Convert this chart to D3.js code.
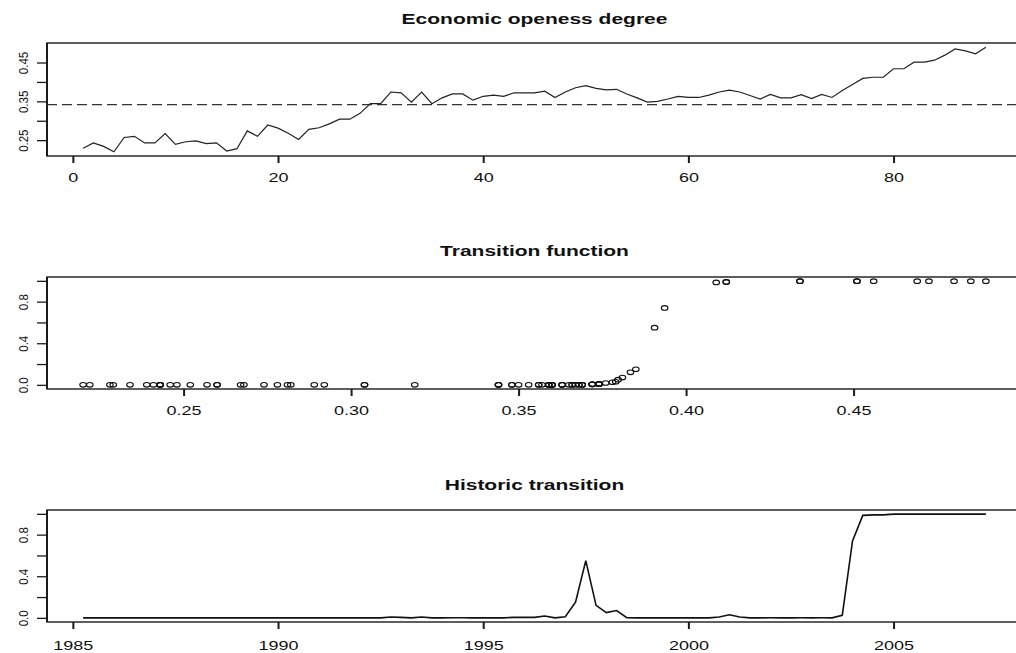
<!DOCTYPE html>
<html>
<head>
<meta charset="utf-8">
<script src="https://cdn.jsdelivr.net/npm/d3@7/dist/d3.min.js"></script>
<style>
  html, body { margin: 0; padding: 0; background: #fff; }
  svg { display: block; }
  text { font-family: "Liberation Sans", Arial, Helvetica, sans-serif; fill: #111; }
</style>
</head>
<body>
<svg id="chart" width="1016" height="653"></svg>
<script>
// ---------------- DATA ----------------
const titles = ["Economic openess degree", "Transition function", "Historic transition"];

// quarterly observation index 1..89
const obsIndex = d3.range(1, 90);

// economic openness degree per quarter
const openness = [
  0.229, 0.243, 0.234, 0.220, 0.257, 0.260, 0.243, 0.243, 0.267, 0.239,
  0.246, 0.248, 0.241, 0.243, 0.222, 0.228, 0.274, 0.260, 0.289, 0.281,
  0.268, 0.252, 0.278, 0.282, 0.292, 0.304, 0.304, 0.319, 0.344, 0.344,
  0.374, 0.372, 0.348, 0.374, 0.344, 0.359, 0.369, 0.369, 0.353, 0.363,
  0.366, 0.363, 0.372, 0.372, 0.372, 0.376, 0.360, 0.374, 0.385, 0.3906,
  0.3834, 0.3797, 0.381, 0.369, 0.359, 0.348, 0.350, 0.356, 0.363, 0.360,
  0.360, 0.366, 0.374, 0.379, 0.374, 0.365, 0.356, 0.368, 0.359, 0.359,
  0.367, 0.357, 0.368, 0.360, 0.378, 0.3936, 0.409, 0.412, 0.412, 0.434,
  0.434, 0.451, 0.451, 0.456, 0.469, 0.485, 0.480, 0.4725, 0.4895
];

// transition function value per quarter
const transition = [
  0, 0, 0, 0, 0, 0, 0, 0, 0, 0,
  0, 0, 0, 0, 0, 0, 0, 0, 0, 0,
  0, 0, 0, 0, 0, 0, 0, 0, 0, 0,
  0.008, 0.005, 0, 0.008, 0, 0, 0.001, 0.001, 0, 0,
  0, 0, 0.005, 0.005, 0.005, 0.018, 0, 0.01, 0.15, 0.55,
  0.12, 0.05, 0.07, 0.001, 0, 0, 0, 0, 0, 0,
  0, 0, 0.008, 0.03, 0.008, 0, 0, 0.001, 0, 0,
  0.001, 0, 0.001, 0, 0.025, 0.74, 0.985, 0.99, 0.99, 0.997,
  0.997, 0.997, 0.997, 0.997, 0.997, 0.997, 0.997, 0.997, 0.997
];

// quarterly dates, starting 1985 Q2
const years = [
  1985.25, 1985.5, 1985.75, 1986, 1986.25, 1986.5, 1986.75, 1987, 1987.25, 1987.5,
  1987.75, 1988, 1988.25, 1988.5, 1988.75, 1989, 1989.25, 1989.5, 1989.75, 1990,
  1990.25, 1990.5, 1990.75, 1991, 1991.25, 1991.5, 1991.75, 1992, 1992.25, 1992.5,
  1992.75, 1993, 1993.25, 1993.5, 1993.75, 1994, 1994.25, 1994.5, 1994.75, 1995,
  1995.25, 1995.5, 1995.75, 1996, 1996.25, 1996.5, 1996.75, 1997, 1997.25, 1997.5,
  1997.75, 1998, 1998.25, 1998.5, 1998.75, 1999, 1999.25, 1999.5, 1999.75, 2000,
  2000.25, 2000.5, 2000.75, 2001, 2001.25, 2001.5, 2001.75, 2002, 2002.25, 2002.5,
  2002.75, 2003, 2003.25, 2003.5, 2003.75, 2004, 2004.25, 2004.5, 2004.75, 2005,
  2005.25, 2005.5, 2005.75, 2006, 2006.25, 2006.5, 2006.75, 2007, 2007.25
];

const threshold = 0.3415;

const xTicks1 = [0, 20, 40, 60, 80];
const yTicks1 = [0.25, 0.30, 0.35, 0.40, 0.45];
const yLabels1 = ["0.25", "", "0.35", "", "0.45"];
const xTicks2 = [0.25, 0.30, 0.35, 0.40, 0.45];
const xLabels2 = ["0.25", "0.30", "0.35", "0.40", "0.45"];
const yTicks23 = [0, 0.2, 0.4, 0.6, 0.8, 1.0];
const yLabels23 = ["0.0", "", "0.4", "", "0.8", ""];
const xTicks3 = [1985, 1990, 1995, 2000, 2005];

// ---------------- LAYOUT ----------------
const svg = d3.select("#chart");
const L = 47, R = 1022;
const panels = [
  { top: 43, bottom: 156, titleY: 23.5, labelDY: 26 },
  { top: 277, bottom: 389, titleY: 255.5, labelDY: 26 },
  { top: 510, bottom: 622, titleY: 490, labelDY: 28 }
];
const ink = "#1a1a1a";

function rExt(arr) {
  const [a, b] = d3.extent(arr);
  const p = (b - a) * 0.04;
  return [a - p, b + p];
}

function drawFrame(i, x, y, xt, xl, yt, yl) {
  const p = panels[i];
  const g = svg.append("g");
  // box
  g.append("rect").attr("x", L).attr("y", p.top)
    .attr("width", R - L).attr("height", p.bottom - p.top)
    .attr("fill", "none").attr("stroke", ink).attr("stroke-width", 1.4);
  g.append("line").attr("x1", L).attr("x2", L).attr("y1", p.top).attr("y2", p.bottom)
    .attr("stroke", ink).attr("stroke-width", 2);
  // x axis
  const ax = g.append("g").attr("transform", `translate(0,${p.bottom})`)
    .call(d3.axisBottom(x).tickValues(xt).tickSize(7).tickSizeOuter(0)
      .tickFormat((d, k) => xl ? xl[k] : String(d)));
  ax.select(".domain").remove();
  ax.selectAll(".tick line").attr("stroke", ink).attr("stroke-width", 2);
  ax.selectAll(".tick text")
    .attr("y", null).attr("dy", null)
    .attr("transform", `translate(0,${p.labelDY}) scale(1.5,1)`)
    .attr("font-size", 12).attr("fill", "#111")
    .attr("font-family", '"Liberation Sans", Arial, sans-serif');
  // y axis
  const ay = g.append("g").attr("transform", `translate(${L},0)`)
    .call(d3.axisLeft(y).tickValues(yt).tickSize(10).tickSizeOuter(0)
      .tickFormat((d, k) => yl[k]));
  ay.select(".domain").remove();
  ay.selectAll(".tick line").attr("stroke", ink).attr("stroke-width", 1.3);
  ay.selectAll(".tick text")
    .attr("x", null).attr("dy", null)
    .attr("text-anchor", "middle")
    .attr("transform", "translate(-19,0) scale(1.13,1) rotate(-90)")
    .attr("font-size", 11.5).attr("fill", "#111")
    .attr("font-family", '"Liberation Sans", Arial, sans-serif');
  // title
  svg.append("text")
    .attr("transform", `translate(${(L + R) / 2},${p.titleY}) scale(1.5,1)`)
    .attr("text-anchor", "middle")
    .attr("font-size", 14).attr("font-weight", "bold")
    .text(titles[i]);
}

// ---------------- PANEL 1 ----------------
{
  const p = panels[0];
  const x = d3.scaleLinear().domain(rExt(obsIndex)).range([L, R]);
  const y = d3.scaleLinear().domain(rExt(openness)).range([p.bottom, p.top]);
  drawFrame(0, x, y, xTicks1, null, yTicks1, yLabels1);
  svg.append("line")
    .attr("x1", L).attr("x2", R)
    .attr("y1", y(threshold)).attr("y2", y(threshold))
    .attr("stroke", "#333").attr("stroke-width", 1.3)
    .attr("stroke-dasharray", "10,5");
  svg.append("path")
    .datum(obsIndex.map((t, k) => [t, openness[k]]))
    .attr("d", d3.line().x(d => x(d[0])).y(d => y(d[1])))
    .attr("fill", "none").attr("stroke", "#222").attr("stroke-width", 1.2);
}

// ---------------- PANEL 2 ----------------
{
  const p = panels[1];
  const x = d3.scaleLinear().domain(rExt(openness)).range([L, R]);
  const y = d3.scaleLinear().domain(rExt(transition)).range([p.bottom, p.top]);
  drawFrame(1, x, y, xTicks2, xLabels2, yTicks23, yLabels23);
  svg.append("g").selectAll("ellipse")
    .data(openness.map((o, k) => [o, transition[k]]))
    .join("ellipse")
    .attr("cx", d => x(d[0])).attr("cy", d => y(d[1]))
    .attr("rx", 3.3).attr("ry", 2.3)
    .attr("fill", "none").attr("stroke", "#111").attr("stroke-width", 1.1);
}

// ---------------- PANEL 3 ----------------
{
  const p = panels[2];
  const x = d3.scaleLinear().domain(rExt(years)).range([L, R]);
  const y = d3.scaleLinear().domain(rExt(transition)).range([p.bottom, p.top]);
  drawFrame(2, x, y, xTicks3, null, yTicks23, yLabels23);
  svg.append("path")
    .datum(years.map((t, k) => [t, transition[k]]))
    .attr("d", d3.line().x(d => x(d[0])).y(d => y(d[1])))
    .attr("fill", "none").attr("stroke", "#111").attr("stroke-width", 1.6);
}
</script>
</body>
</html>
